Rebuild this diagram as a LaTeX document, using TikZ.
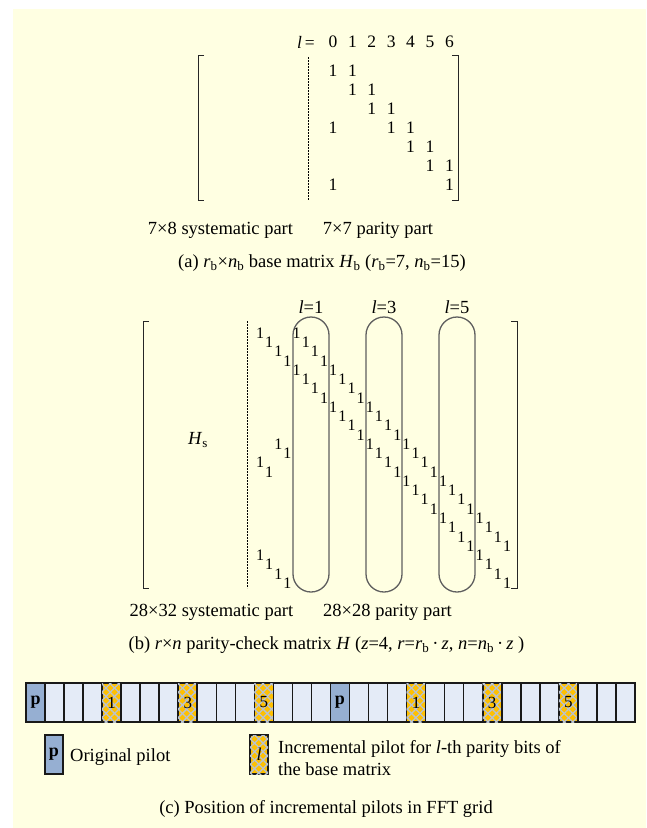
\documentclass[tikz,border=0pt]{standalone}
\usepackage{fontspec}
\setmainfont{Liberation Serif}
\usetikzlibrary{patterns.meta}
\definecolor{bgyellow}{RGB}{255,255,226}
\definecolor{pilotblue}{RGB}{150,175,210}
\definecolor{cellblue}{RGB}{228,235,247}
\definecolor{incorange}{RGB}{255,192,0}
\definecolor{hatch}{RGB}{185,195,210}
\definecolor{capgray}{RGB}{95,95,95}
\tikzset{
  txt/.style={font=\fontsize{18.5}{22}\selectfont, inner sep=0pt},
  mtxt/.style={font=\fontsize{17.5}{20}\selectfont, inner sep=0pt},
  oneb/.style={font=\fontsize{16}{18}\selectfont, inner sep=0pt},
  brack/.style={draw=black!85, line width=0.9pt},
  densedash/.style={draw=black, line width=1pt, dash pattern=on 2pt off 1pt},
  capsule/.style={draw=capgray, line width=1.3pt, rounded corners=18pt, minimum width=36pt, minimum height=275pt, inner sep=0pt},
  cell/.style={draw=black!90, line width=1.6pt, minimum width=19.03pt, minimum height=39pt, inner sep=0pt, font=\fontsize{17}{19}\selectfont},
  emptycell/.style={cell, fill=cellblue},
  pilotcell/.style={cell, fill=pilotblue, font=\fontsize{18}{20}\selectfont\bfseries},
  inccell/.style={cell, fill=incorange,
     postaction={pattern={Lines[angle=45,distance=6pt,line width=1.3pt]}, pattern color=hatch},
     postaction={pattern={Lines[angle=-45,distance=6pt,line width=1.3pt]}, pattern color=hatch}},
  legbox/.style={draw=black!90, line width=1.6pt, minimum width=18pt, minimum height=39pt, inner sep=0pt},
}
\begin{document}
\begin{tikzpicture}[x=1pt,y=-1pt]
\useasboundingbox (0,0) rectangle (646,828);
\fill[bgyellow] (13,9) rectangle (646,828);

% ---------------- (a) base matrix ----------------
\node[mtxt] (lhdr) at (306,42) {\textit{l}\,=};
\foreach \c in {0,...,6} \node[mtxt] (h\c) at ({333+19.4*\c},42) {\c};
\foreach \r/\c in {1/0,1/1,2/1,2/2,3/2,3/3,4/0,4/3,4/4,5/4,5/5,6/5,6/6,7/0,7/6}
  \node[mtxt] (a\r-\c) at ({333+19.4*\c},{71+19*(\r-1)}) {1};
\draw[brack] (204,55) -- (198,55) -- (198,200) -- (204,200);
\draw[brack] (452,55) -- (458,55) -- (458,200) -- (452,200);
\draw[densedash] (308,57) -- (308,200);
\node[txt] (sysa) at (220.5,230) {7×8 systematic part};
\node[txt] (para) at (378,230) {7×7 parity part};
\node[txt] (capa) at (322,263) {(a) \textit{r}\textsubscript{b}×\textit{n}\textsubscript{b} base matrix \textit{H}\textsubscript{b} (\textit{r}\textsubscript{b}=7, \textit{n}\textsubscript{b}=15)};

% ---------------- (b) parity-check matrix ----------------
\node[txt] (l1) at (311,307) {\textit{l}=1};
\node[txt] (l3) at (384,307) {\textit{l}=3};
\node[txt] (l5) at (457,307) {\textit{l}=5};
\node[capsule] (cap1) at (311,454.5) {};
\node[capsule] (cap3) at (384,454.5) {};
\node[capsule] (cap5) at (457,454.5) {};
\draw[brack] (149,321) -- (143,321) -- (143,588) -- (149,588);
\draw[brack] (511,321) -- (517,321) -- (517,588) -- (511,588);
\draw[densedash] (247,321) -- (247,588);
\node[txt] (hs) at (198,440) {\textit{H}\textsubscript{s}};
\foreach \R in {0,...,5}{
  \foreach \k in {0,...,3}{
    \pgfmathtruncatemacro\rr{4*\R+\k}
    \pgfmathtruncatemacro\cc{4*\R+4+\k}
    \node[oneb] (b\rr-\rr) at ({260+9.15*\rr},{333+9.26*\rr}) {1};
    \node[oneb] (b\rr-\cc) at ({260+9.15*\cc},{333+9.26*\rr}) {1};
  }
}
\foreach \k in {0,...,3}{
  \pgfmathtruncatemacro\rr{24+\k}
  \node[oneb] (b\rr-\rr) at ({260+9.15*\rr},{333+9.26*\rr}) {1};
  \node[oneb] (b\rr-\k) at ({260+9.15*\k},{333+9.26*\rr}) {1};
  \pgfmathtruncatemacro\sr{12+\k}
  \pgfmathtruncatemacro\sc{mod(\k+2,4)}
  \node[oneb] (b\sr-\sc) at ({260+9.15*\sc},{333+9.26*\sr}) {1};
}
\node[txt] (sysb) at (211.5,612) {28×32 systematic part};
\node[txt] (parb) at (387.5,612) {28×28 parity part};
\node[txt] (capb) at (326.5,645) {(b) \textit{r}×\textit{n} parity-check matrix \textit{H} (\textit{z}=4, \textit{r}=\textit{r}\textsubscript{b}\,·\,\textit{z}, \textit{n}=\textit{n}\textsubscript{b}\,·\,\textit{z} )};

% ---------------- (c) FFT grid ----------------
\foreach \i in {0,...,31}{
  \pgfmathtruncatemacro\m{mod(\i,16)}
  \ifnum\m=0
    \node[pilotcell] (g\i) at ({26+19.03*\i+9.515},702.5) {p};
  \else\ifnum\m=4
    \node[inccell] (g\i) at ({26+19.03*\i+9.515},702.5) {1};
  \else\ifnum\m=8
    \node[inccell] (g\i) at ({26+19.03*\i+9.515},702.5) {3};
  \else\ifnum\m=12
    \node[inccell] (g\i) at ({26+19.03*\i+9.515},702.5) {5};
  \else
    \node[emptycell] (g\i) at ({26+19.03*\i+9.515},702.5) {};
  \fi\fi\fi\fi
}
\node[legbox, fill=pilotblue, font=\fontsize{18}{20}\selectfont\bfseries] (legp) at (54,754.5) {p};
\node[txt, anchor=base west] (legptxt) at (70,761) {Original pilot};
\node[legbox, fill=incorange,
     postaction={pattern={Lines[angle=45,distance=6pt,line width=1.3pt]}, pattern color=hatch},
     postaction={pattern={Lines[angle=-45,distance=6pt,line width=1.3pt]}, pattern color=hatch},
     font=\fontsize{18}{20}\selectfont\itshape] (legi) at (259,754.5) {l};
\node[txt, anchor=base west] (legitxt1) at (278,753) {Incremental pilot for \textit{l}-th parity bits of};
\node[txt, anchor=base west] (legitxt2) at (278,775) {the base matrix};
\node[txt] (capc) at (326,809) {(c) Position of incremental pilots in FFT grid};
\end{tikzpicture}
\end{document}
